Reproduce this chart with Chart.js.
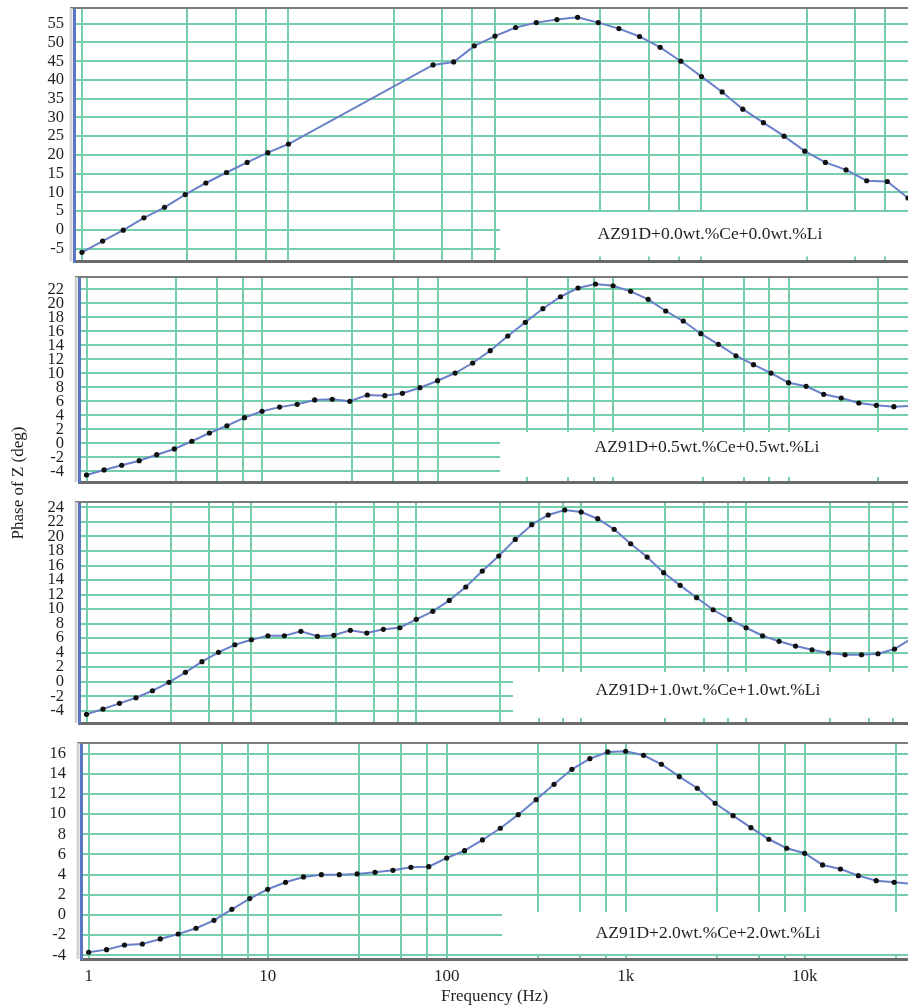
<!DOCTYPE html>
<html>
<head>
<meta charset="utf-8">
<title>Phase of Z vs frequency</title>
<script src="https://cdn.jsdelivr.net/npm/chart.js@4.4.1/dist/chart.umd.min.js"></script>
<style>
  html, body { margin: 0; padding: 0; background: #fff; }
  #wrap { position: relative; width: 908px; height: 1008px; overflow: hidden; }
  #wrap canvas { position: absolute; left: 0; top: 0; }
</style>
</head>
<body>
<div id="wrap">
  <canvas id="p1" width="908" height="1008"></canvas>
  <canvas id="p2" width="908" height="1008"></canvas>
  <canvas id="p3" width="908" height="1008"></canvas>
  <canvas id="p4" width="908" height="1008"></canvas>
</div>
<script>
// measurement frequencies (Hz), 10 per decade
const freqHz = [1, 1.259, 1.585, 1.995, 2.512, 3.162, 3.981, 5.012, 6.31, 7.943,
  10, 12.59, 15.85, 19.95, 25.12, 31.62, 39.81, 50.12, 63.1, 79.43,
  100, 125.9, 158.5, 199.5, 251.2, 316.2, 398.1, 501.2, 631, 794.3,
  1000, 1259, 1585, 1995, 2512, 3162, 3981, 5012, 6310, 7943,
  10000, 12590, 15850, 19950, 25120, 31620, 39810, 50120, 63100, 79430, 100000];

// phase of Z (deg) for each alloy; null = no point recorded
const phaseCe00 = [-6.0, -3.0, -0.1, 3.2, 6.0, 9.4, 12.5, 15.3, 18.0, 20.6,
  22.9, null, null, null, null, null, null, 44.0, 44.8, 49.1,
  51.7, 54.0, 55.3, 56.1, 56.7, 55.3, 53.7, 51.6, 48.7, 45.0,
  40.9, 36.8, 32.2, 28.6, 25.0, 21.0, 18.0, 16.0, 13.1, 12.9, 8.5];
const phaseCe05 = [-4.53, -3.81, -3.14, -2.49, -1.63, -0.81, 0.29, 1.47, 2.51, 3.66,
  4.57, 5.17, 5.57, 6.19, 6.29, 6.0, 6.9, 6.8, 7.14, 7.94,
  8.94, 10.04, 11.47, 13.23, 15.33, 17.29, 19.23, 20.94, 22.19, 22.76,
  22.51, 21.71, 20.57, 18.9, 17.47, 15.66, 14.14, 12.51, 11.23, 10.04,
  8.66, 8.14, 7.0, 6.47, 5.76, 5.43, 5.23, 5.35];
const phaseCe10 = [-4.5, -3.77, -2.98, -2.21, -1.25, -0.09, 1.29, 2.75, 4.04, 5.09,
  5.78, 6.33, 6.33, 6.94, 6.25, 6.39, 7.07, 6.7, 7.21, 7.43,
  8.59, 9.69, 11.2, 13.04, 15.24, 17.31, 19.6, 21.62, 22.96, 23.65,
  23.37, 22.45, 20.98, 19.0, 17.17, 15.01, 13.27, 11.57, 9.91, 8.59,
  7.43, 6.33, 5.56, 4.91, 4.4, 3.95, 3.71, 3.71, 3.85, 4.5, 5.9];
const phaseCe20 = [-3.7, -3.44, -2.98, -2.88, -2.38, -1.89, -1.32, -0.53, 0.56, 1.62,
  2.55, 3.24, 3.77, 4.0, 4.0, 4.07, 4.23, 4.43, 4.73, 4.79,
  5.65, 6.38, 7.44, 8.6, 9.95, 11.44, 12.96, 14.45, 15.5, 16.17,
  16.24, 15.84, 14.95, 13.72, 12.57, 11.08, 9.85, 8.66, 7.51, 6.62,
  6.12, 4.96, 4.56, 3.9, 3.4, 3.24, 3.1];

const panelLabels = ['AZ91D+0.0wt.%Ce+0.0wt.%Li', 'AZ91D+0.5wt.%Ce+0.5wt.%Li',
  'AZ91D+1.0wt.%Ce+1.0wt.%Li', 'AZ91D+2.0wt.%Ce+2.0wt.%Li'];

// y tick values per panel
const yTicksCe00 = [-5, 0, 5, 10, 15, 20, 25, 30, 35, 40, 45, 50, 55];
const yTicksCe05 = [-4, -2, 0, 2, 4, 6, 8, 10, 12, 14, 16, 18, 20, 22];
const yTicksCe10 = [-4, -2, 0, 2, 4, 6, 8, 10, 12, 14, 16, 18, 20, 22, 24];
const yTicksCe20 = [-4, -2, 0, 2, 4, 6, 8, 10, 12, 14, 16];

// vertical grid lines (Hz) and the labelled ones on the bottom axis
const gridFreqs = [1, 3.24, 5.56, 7.76, 10, 32.4, 55.6, 77.6, 100, 324, 556, 776,
  1000, 3240, 5560, 7760, 10000, 32400, 55600, 77600];
const xLabelValues = [1, 10, 100, 1000, 10000];
const xLabelText = ['1', '10', '100', '1k', '10k'];

const SERIF = '"Liberation Serif", "DejaVu Serif", serif';
const GRID = '#74cfaa';
const H = 1008;

// decorations: top frame, ruler strip, white legend box with the sample name
const panelDecor = {
  id: 'panelDecor',
  beforeDatasetsDraw(chart, args, opts) {
    const ctx = chart.ctx;
    const a = chart.chartArea;
    ctx.save();
    ctx.fillStyle = '#ffffff';
    ctx.fillRect(opts.boxLeft, opts.boxTop, a.right - opts.boxLeft, a.bottom - 5 - opts.boxTop);
    ctx.fillStyle = '#1e1e1e';
    ctx.font = '17.5px ' + SERIF;
    ctx.textAlign = 'center';
    ctx.textBaseline = 'middle';
    ctx.fillText(opts.label, opts.textX, opts.textY);
    ctx.strokeStyle = '#7a7a7a';
    ctx.lineWidth = 2;
    ctx.beginPath();
    ctx.moveTo(a.left - 4, a.top);
    ctx.lineTo(a.right, a.top);
    ctx.stroke();
    ctx.strokeStyle = '#d2d2d2';
    ctx.lineWidth = 3;
    ctx.beginPath();
    ctx.moveTo(a.left - 3, a.top);
    ctx.lineTo(a.left - 3, a.bottom);
    ctx.stroke();
    if (opts.yTitle) {
      ctx.fillStyle = '#1e1e1e';
      ctx.font = '17px ' + SERIF;
      ctx.translate(19, 483);
      ctx.rotate(-Math.PI / 2);
      ctx.fillText(opts.yTitle, 0, 0);
    }
    ctx.restore();
  }
};

function makePanel(id, values, yTicks, label, lay, bottom) {
  const points = values.map((v, i) => ({ x: freqHz[i], y: v }));
  return new Chart(document.getElementById(id), {
    type: 'line',
    data: {
      datasets: [{
        data: points,
        borderColor: '#6a80c9',
        borderWidth: 2,
        pointRadius: 2.6,
        pointBackgroundColor: '#111',
        pointBorderWidth: 0,
        tension: 0,
        spanGaps: true
      }]
    },
    options: {
      responsive: false,
      animation: false,
      events: [],
      devicePixelRatio: 1,
      layout: {
        autoPadding: false,
        padding: { top: lay.top, left: 0, right: 0, bottom: bottom ? 0 : H - lay.bottom }
      },
      plugins: {
        legend: { display: false },
        tooltip: { enabled: false },
        panelDecor: {
          label: label, boxLeft: lay.boxLeft, boxTop: lay.boxTop,
          textX: lay.textX, textY: lay.textY, yTitle: lay.yTitle
        }
      },
      scales: {
        x: {
          type: 'logarithmic',
          position: 'bottom',
          min: lay.xMin,
          max: lay.xMax,
          afterBuildTicks: (s) => {
            // keep only lines strictly inside the plot area
            s.ticks = gridFreqs.filter(v => v >= s.min && v < s.max * 0.99).map(v => ({ value: v }));
          },
          afterFit: (s) => {
            s.height = bottom ? H - lay.bottom : 0;
            s.paddingLeft = 0;
            s.paddingRight = 0;
          },
          grid: { color: GRID, lineWidth: 2, drawTicks: false },
          border: { color: '#6a6a6a', width: 3 },
          ticks: {
            display: bottom,
            autoSkip: false,
            maxRotation: 0,
            padding: 7,
            color: '#1e1e1e',
            font: { family: SERIF, size: 17 },
            callback: (v) => {
              const k = xLabelValues.indexOf(v);
              return k >= 0 ? xLabelText[k] : '';
            }
          },
          title: {
            display: bottom,
            text: 'Frequency (Hz)',
            color: '#1e1e1e',
            font: { family: SERIF, size: 17 },
            padding: { top: 0, bottom: 1 }
          }
        },
        y: {
          min: lay.yMin,
          max: lay.yMax,
          afterBuildTicks: (s) => {
            s.ticks = yTicks.map(v => ({ value: v }));
          },
          afterFit: (s) => {
            s.width = lay.left;
            s.paddingTop = 0;
            s.paddingBottom = 0;
          },
          grid: { color: GRID, lineWidth: 2, drawTicks: false },
          border: { color: '#5c76c6', width: 3 },
          ticks: {
            autoSkip: false,
            padding: lay.tickPad,
            color: '#1e1e1e',
            font: { family: SERIF, size: 16.5 }
          }
        }
      }
    },
    plugins: [panelDecor]
  });
}

// panel placement (pixels) and per-panel axis ranges
makePanel('p1', phaseCe00, yTicksCe00, panelLabels[0], {
  top: 8, bottom: 261.5, left: 74, xMin: 0.915, xMax: 10000, yMin: -8.45, yMax: 59.2,
  boxLeft: 500, boxTop: 212, textX: 710, textY: 234, tickPad: 10
}, false);
makePanel('p2', phaseCe05, yTicksCe05, panelLabels[1], {
  top: 277, bottom: 482, left: 79, xMin: 0.906, xMax: 47900, yMin: -5.53, yMax: 23.76,
  boxLeft: 500, boxTop: 432, textX: 707, textY: 447, tickPad: 15
}, false);
makePanel('p3', phaseCe10, yTicksCe10, panelLabels[2], {
  top: 502, bottom: 723, left: 79, xMin: 0.9005, xMax: 95900, yMin: -5.69, yMax: 24.75,
  boxLeft: 513, boxTop: 672, textX: 708, textY: 690, tickPad: 15
}, false);
makePanel('p4', phaseCe20, yTicksCe20, panelLabels[3], {
  top: 743, bottom: 959, left: 81, xMin: 0.906, xMax: 37800, yMin: -4.37, yMax: 17.06,
  boxLeft: 502, boxTop: 912, textX: 708, textY: 933, tickPad: 15, yTitle: 'Phase of Z (deg)'
}, true);
</script>
</body>
</html>
